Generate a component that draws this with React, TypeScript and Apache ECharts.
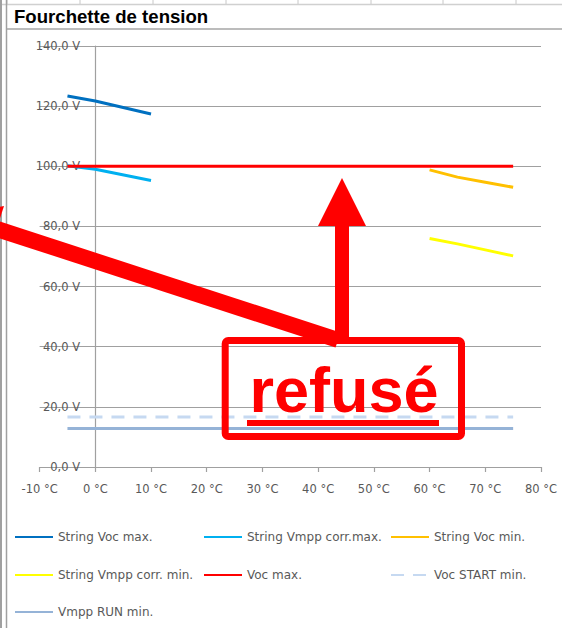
import React, { useEffect, useRef } from "react";
import * as echarts from "echarts";

const TITLE = "Fourchette de tension";
const X_MIN = -10;
const X_MAX = 80;
const X_STEP = 10;
const Y_MIN = 0;
const Y_MAX = 140;
const Y_STEP = 20;

const stringVocMax: [number, number][] = [[-5, 123.4], [0, 121.7], [10, 117.4]];
const stringVmppCorrMax: [number, number][] = [[-5, 100.2], [0, 99.0], [10, 95.3]];
const stringVocMin: [number, number][] = [[60, 98.8], [65, 96.4], [70, 94.7], [75, 93.0]];
const stringVmppCorrMin: [number, number][] = [[60, 76.0], [65, 74.2], [70, 72.2], [75, 70.2]];
const vocMax: [number, number][] = [[-5, 100], [75, 100]];
const vocStartMin: [number, number][] = [[-5, 16.6], [75, 16.6]];
const vmppRunMin: [number, number][] = [[-5, 12.8], [75, 12.8]];

const SERIES_NAMES = [
  "String Voc max.",
  "String Vmpp corr.max.",
  "String Voc min.",
  "String Vmpp corr. min.",
  "Voc max.",
  "Voc START min.",
  "Vmpp RUN min.",
];
const SERIES_DATA = [stringVocMax, stringVmppCorrMax, stringVocMin, stringVmppCorrMin, vocMax, vocStartMin, vmppRunMin];
const SERIES_COLORS = ["#0070C0", "#00B0F0", "#FFC000", "#FFFF00", "#FF0000", "#C6D9F1", "#95B3D7"];

const ANNOTATION = "refusé";

const LEGEND_POS: [number, number][] = [
  [14, 531], [203, 531], [390, 531],
  [14, 569], [203, 569], [390, 569],
  [14, 606],
];

export default function App() {
  const ref = useRef<HTMLDivElement>(null);
  useEffect(() => {
    document.body.style.margin = "0";
    const chart = echarts.init(ref.current!, null, { renderer: "svg" });
    const gray = "#a0a0a0";
    const tickXs = [7, 80, 153, 226, 298, 371, 443, 516];
    const option: any = {
      animation: false,
      backgroundColor: "#ffffff",
      grid: { left: 39.6, right: 21, top: 46, bottom: 161, containLabel: false, outerBoundsMode: "none" },
      xAxis: {
        type: "value",
        min: X_MIN,
        max: X_MAX,
        interval: X_STEP,
        axisLine: { show: true, lineStyle: { color: gray, width: 1.2 } },
        axisTick: { show: true, length: 5, lineStyle: { color: gray, width: 1.2 } },
        splitLine: { show: false },
        axisLabel: {
          margin: 16,
          color: "#595959",
          fontFamily: "DejaVu Sans",
          fontSize: 11.5,
          formatter: (v: number) => `${v} °C`,
        },
      },
      yAxis: {
        type: "value",
        min: Y_MIN,
        max: Y_MAX,
        interval: Y_STEP,
        axisLine: { show: true, onZero: true, lineStyle: { color: gray, width: 1.2 } },
        axisTick: { show: false },
        splitLine: { show: true, lineStyle: { color: gray, width: 1.2 } },
        axisLabel: {
          margin: -40.5,
          color: "#595959",
          fontFamily: "DejaVu Sans",
          fontSize: 11.5,
          formatter: (v: number) => `${v.toFixed(1).replace(".", ",")} V`,
        },
      },
      legend: SERIES_NAMES.map((n, i) => ({
        data: [n],
        left: LEGEND_POS[i][0],
        top: LEGEND_POS[i][1],
        padding: 0,
        itemWidth: 38,
        itemHeight: 14,
        selectedMode: false,
        itemStyle: { opacity: 0 },
        textStyle: { color: "#595959", fontFamily: "DejaVu Sans", fontSize: 12 },
      })),
      series: SERIES_NAMES.map((n, i) => ({
        name: n,
        type: "line",
        data: SERIES_DATA[i],
        symbol: "none",
        color: SERIES_COLORS[i],
        lineStyle: {
          color: SERIES_COLORS[i],
          width: 3,
          type: n === "Voc START min." ? [13, 9] : "solid",
        },
        z: n === "Voc max." ? 5 : 3,
      })),
      graphic: [
        { type: "line", shape: { x1: 0, y1: 4.5, x2: 562, y2: 4.5 }, style: { stroke: "#d0d0d0", lineWidth: 1.5 }, z: 1 },
        ...tickXs.map((x) => ({ type: "line", shape: { x1: x, y1: 0, x2: x, y2: 4 }, style: { stroke: "#c8c8c8", lineWidth: 1 }, z: 1 })),
        { type: "line", shape: { x1: 1, y1: 0, x2: 1, y2: 628 }, style: { stroke: gray, lineWidth: 2 }, z: 1 },
        { type: "line", shape: { x1: 6.5, y1: 0, x2: 6.5, y2: 628 }, style: { stroke: gray, lineWidth: 1.5 }, z: 1 },
        { type: "line", shape: { x1: 7, y1: 29, x2: 562, y2: 29 }, style: { stroke: "#a6a6a6", lineWidth: 1.5 }, z: 1 },
        {
          type: "text",
          x: 14,
          y: 16.7,
          style: { text: TITLE, fill: "#000000", font: "bold 18.6px 'Liberation Sans', Arial, sans-serif", verticalAlign: "middle", align: "left" },
          z: 10,
        },
        { type: "polygon", shape: { points: [[4, 206], [-48, 215], [-11, 252]] }, style: { fill: "#FF0000" }, z: 100 },
        { type: "line", shape: { x1: -3, y1: 229, x2: 338, y2: 340 }, style: { stroke: "#FF0000", lineWidth: 16, lineCap: "butt" }, z: 100 },
        { type: "rect", shape: { x: 335, y: 224, width: 14, height: 118 }, style: { fill: "#FF0000" }, z: 100 },
        { type: "polygon", shape: { points: [[318, 226], [366, 226], [342, 178]] }, style: { fill: "#FF0000" }, z: 100 },
        { type: "rect", shape: { x: 225.2, y: 340.5, width: 236.3, height: 96, r: 3 }, style: { fill: "rgba(0,0,0,0)", stroke: "#FF0000", lineWidth: 7, lineJoin: "round" }, z: 100 },
        {
          type: "text",
          x: 344,
          y: 390,
          style: { text: ANNOTATION, fill: "#FF0000", font: "bold 63px 'Liberation Sans', Arial, sans-serif", align: "center", verticalAlign: "middle" },
          z: 101,
        },
        { type: "rect", shape: { x: 247, y: 420, width: 192, height: 6 }, style: { fill: "#FF0000" }, z: 101 },
      ],
    };
    chart.setOption(option);
    return () => chart.dispose();
  }, []);
  return <div ref={ref} style={{ width: 562, height: 628 }} />;
}
